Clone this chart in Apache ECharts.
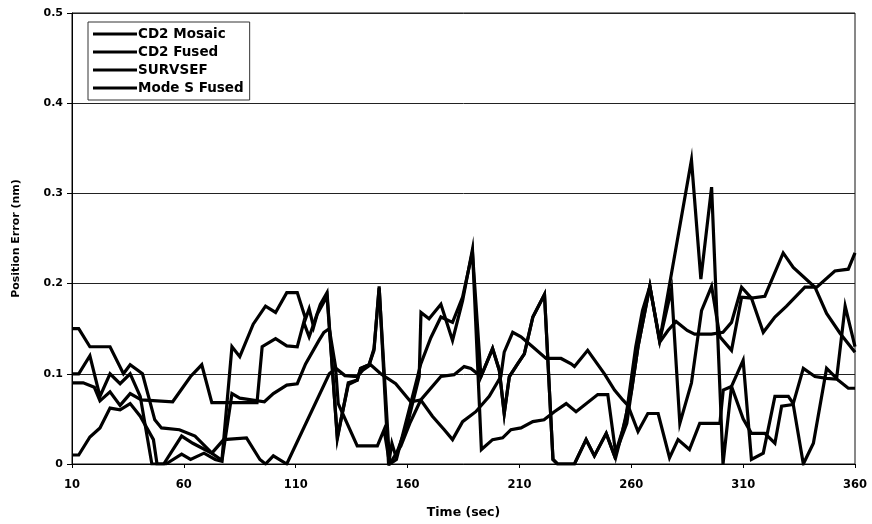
<!DOCTYPE html>
<html>
<head>
<meta charset="utf-8">
<script src="https://cdn.jsdelivr.net/npm/echarts@6/dist/echarts.min.js"></script>
<style>
  html, body { margin: 0; padding: 0; background: #fff; }
  #chart { width: 872px; height: 524px; }
</style>
</head>
<body>
<div id="chart"></div>
<script>
// Position error of four trackers over time, [seconds, nautical miles]
const seriesNames = ['CD2 Mosaic', 'CD2 Fused', 'SURVSEF', 'Mode S Fused'];

const cd2Mosaic = [
  [10,0.15],[13,0.15],[18,0.13],[27,0.13],[33,0.10],[36,0.11],[41.5,0.10],[47,0.049],[50,0.04],
  [58,0.038],[65,0.031],[73,0.011],[77,0.004],[81.5,0.13],[85,0.119],[91,0.155],[96.5,0.175],
  [101,0.168],[106,0.19],[110.7,0.19],[114.4,0.161],[116,0.172],[118,0.152],[119.6,0.166],
  [124,0.186],[128.6,0.03],[133.5,0.088],[137.5,0.093],[139,0.106],[142.8,0.11],[145,0.128],
  [147.3,0.195],[152,0],[155,0.005],[161.4,0.067],[165.9,0.111],[170.4,0.14],[174.9,0.163],
  [180.1,0.157],[184.6,0.185],[189,0.235],[192.8,0.097],[198,0.128],[201,0.104],[203.2,0.056],
  [205.5,0.097],[209.2,0.111],[212.2,0.122],[216,0.163],[221.2,0.188],[225,0.005],[227,0],
  [234.6,0],[239.8,0.027],[243.5,0.009],[248.8,0.034],[252.5,0.009],[256.2,0.038],[260,0.08],
  [263,0.13],[268.3,0.197],[272.7,0.137],[286.9,0.337],[291.1,0.205],[295.9,0.307],[301,0],
  [304.8,0.086],[310,0.115],[313.7,0.005],[319,0.012],[324.2,0.075],[330.2,0.075],[332.4,0.067],
  [336.9,0.106],[342.1,0.097],[347.3,0.095],[352,0.094],[357,0.084],[360,0.084]
];

const cd2Fused = [
  [10,0.10],[13,0.10],[18,0.12],[22.5,0.075],[27,0.10],[31.5,0.089],[36,0.10],[40.5,0.075],
  [45.7,0],[51,0],[59,0.031],[64,0.023],[72.5,0.012],[77.8,0.027],[88,0.029],[94,0.005],
  [96.5,0],[100,0.009],[106,0],[125,0.1],[128,0.106],[132,0.098],[137.5,0.097],[140,0.104],
  [143.5,0.11],[148,0.1],[154.7,0.089],[161.4,0.069],[165.9,0.071],[171.1,0.053],[176.4,0.038],
  [180.1,0.027],[184.6,0.047],[190.5,0.058],[196.5,0.075],[201.7,0.097],[203.2,0.124],
  [207,0.146],[210.7,0.141],[215.9,0.13],[221.9,0.117],[228.6,0.117],[233.1,0.111],
  [234.6,0.108],[240.5,0.126],[248,0.10],[252.5,0.082],[256.2,0.071],[258.5,0.065],[263,0.036],
  [267.4,0.056],[272,0.056],[277.1,0.007],[280.9,0.027],[286,0.016],[290.6,0.045],[299.6,0.045],
  [301.1,0.082],[304.8,0.086],[310,0.05],[313.7,0.034],[319.7,0.034],[324.2,0.023],[327.2,0.064],
  [332.4,0.066],[336.9,0],[341.4,0.023],[347.3,0.106],[351.8,0.095],[355.6,0.175],[360,0.13]
];

const survsef = [
  [10,0.09],[15,0.09],[20,0.085],[22.5,0.07],[27,0.08],[31.5,0.065],[36,0.078],[41,0.071],
  [55,0.069],[63,0.097],[68,0.11],[72.5,0.068],[92.7,0.068],[95,0.13],[101,0.139],[106,0.131],
  [110.7,0.13],[113.6,0.157],[116,0.141],[118,0.155],[121,0.177],[124,0.19],[128.6,0.028],
  [133.5,0.09],[137.5,0.093],[139,0.106],[142.8,0.11],[145,0.126],[147.3,0.197],[151.5,0],
  [153,0.023],[154.7,0.009],[160,0.045],[165.2,0.097],[166,0.168],[169.6,0.161],[174.9,0.177],
  [180.1,0.137],[184.6,0.181],[189,0.238],[193,0.016],[198,0.027],[202.5,0.029],[206.2,0.038],
  [210.7,0.04],[216,0.047],[221,0.049],[225.6,0.058],[230.9,0.067],[235.3,0.058],[245,0.077],
  [249.5,0.077],[253.2,0.009],[257.5,0.05],[262,0.13],[265,0.17],[268.3,0.197],[272.7,0.135],
  [276.4,0.148],[280,0.158],[285,0.148],[288.3,0.144],[295.8,0.144],[301,0.146],[304.8,0.157],
  [309.3,0.196],[313.7,0.184],[319.7,0.186],[327.9,0.234],[332.4,0.218],[342.1,0.196],
  [347.3,0.167],[353.3,0.145],[360,0.124]
];

const modeSFused = [
  [10,0.01],[13,0.01],[18,0.03],[22.5,0.04],[27,0.062],[31.5,0.06],[36,0.067],[40.5,0.053],
  [46.4,0.027],[48,0],[52,0],[59,0.011],[63,0.005],[69,0.012],[74,0.005],[77,0.003],[81.5,0.078],
  [85,0.073],[96,0.069],[100,0.078],[106,0.0875],[110.7,0.089],[114.4,0.111],[120.4,0.137],
  [122.6,0.146],[125,0.15],[127.8,0.108],[129,0.067],[137.5,0.02],[146.5,0.02],[149.5,0.038],
  [152,0],[157,0.02],[161,0.045],[165.9,0.071],[174.9,0.097],[180.8,0.099],[185.3,0.108],
  [188.3,0.106],[192.8,0.097],[198,0.128],[201,0.104],[203.2,0.056],[205.5,0.097],[209.2,0.111],
  [212.2,0.122],[216,0.163],[221.2,0.188],[225,0.005],[227,0],[234.6,0],[239.8,0.027],
  [243.5,0.009],[248.8,0.034],[252.5,0.009],[258,0.045],[263,0.13],[268.3,0.197],[272.7,0.137],
  [278,0.194],[281.7,0.045],[286.9,0.09],[291.4,0.17],[295.9,0.197],[299.6,0.141],[304.8,0.126],
  [309.3,0.185],[313.7,0.184],[319,0.146],[324.2,0.163],[329.4,0.175],[337.6,0.196],
  [342.9,0.196],[351,0.214],[357,0.216],[360,0.234]
];

const allSeries = [cd2Mosaic, cd2Fused, survsef, modeSFused];

const FONT = '"DejaVu Sans", "Liberation Sans", Arial, sans-serif';
const chart = echarts.init(document.getElementById('chart'), null, { renderer: 'canvas' });

chart.setOption({
  animation: false,
  backgroundColor: '#fff',
  grid: {
    left: 72, right: 17, top: 13, bottom: 56,
    show: true, borderColor: '#111', borderWidth: 1, backgroundColor: 'transparent'
  },
  legend: {
    orient: 'vertical',
    left: 88, top: 22,
    data: seriesNames,
    icon: 'rect',
    itemWidth: 44, itemHeight: 3, itemGap: 4,
    padding: [5, 6, 5, 5],
    backgroundColor: '#fff',
    borderColor: '#333', borderWidth: 1,
    textStyle: { fontFamily: FONT, fontWeight: 'bold', fontSize: 13.5, color: '#000', padding: [0, 0, 0, -4] }
  },
  xAxis: {
    type: 'value',
    min: 10, max: 360, interval: 50,
    name: 'Time (sec)',
    nameLocation: 'middle', nameGap: 42,
    nameTextStyle: { fontFamily: FONT, fontWeight: 'bold', fontSize: 12.5, color: '#000' },
    axisLine: { show: true, lineStyle: { color: '#000', width: 1 } },
    axisTick: { show: true, length: 4, lineStyle: { color: '#000' } },
    axisLabel: { fontFamily: FONT, fontWeight: 'bold', fontSize: 11.5, color: '#000', margin: 15 },
    splitLine: { show: false }
  },
  yAxis: {
    type: 'value',
    min: 0, max: 0.5, interval: 0.1,
    name: 'Position Error (nm)',
    nameLocation: 'middle', nameGap: 50, nameRotate: 90,
    nameTextStyle: { fontFamily: FONT, fontWeight: 'bold', fontSize: 11, color: '#000' },
    axisLine: { show: true, lineStyle: { color: '#000', width: 1 } },
    axisTick: { show: true, length: 5, lineStyle: { color: '#000' } },
    axisLabel: { fontFamily: FONT, fontWeight: 'bold', fontSize: 11, color: '#000', margin: 9 },
    splitLine: { show: true, lineStyle: { color: '#222', width: 1 } }
  },
  series: allSeries.map((d, i) => ({
    name: seriesNames[i],
    type: 'line',
    data: d,
    symbol: 'none',
    lineStyle: { color: '#000', width: 3.2, join: 'miter' },
    itemStyle: { color: '#000' },
    z: 3
  }))
});
</script>
</body>
</html>
